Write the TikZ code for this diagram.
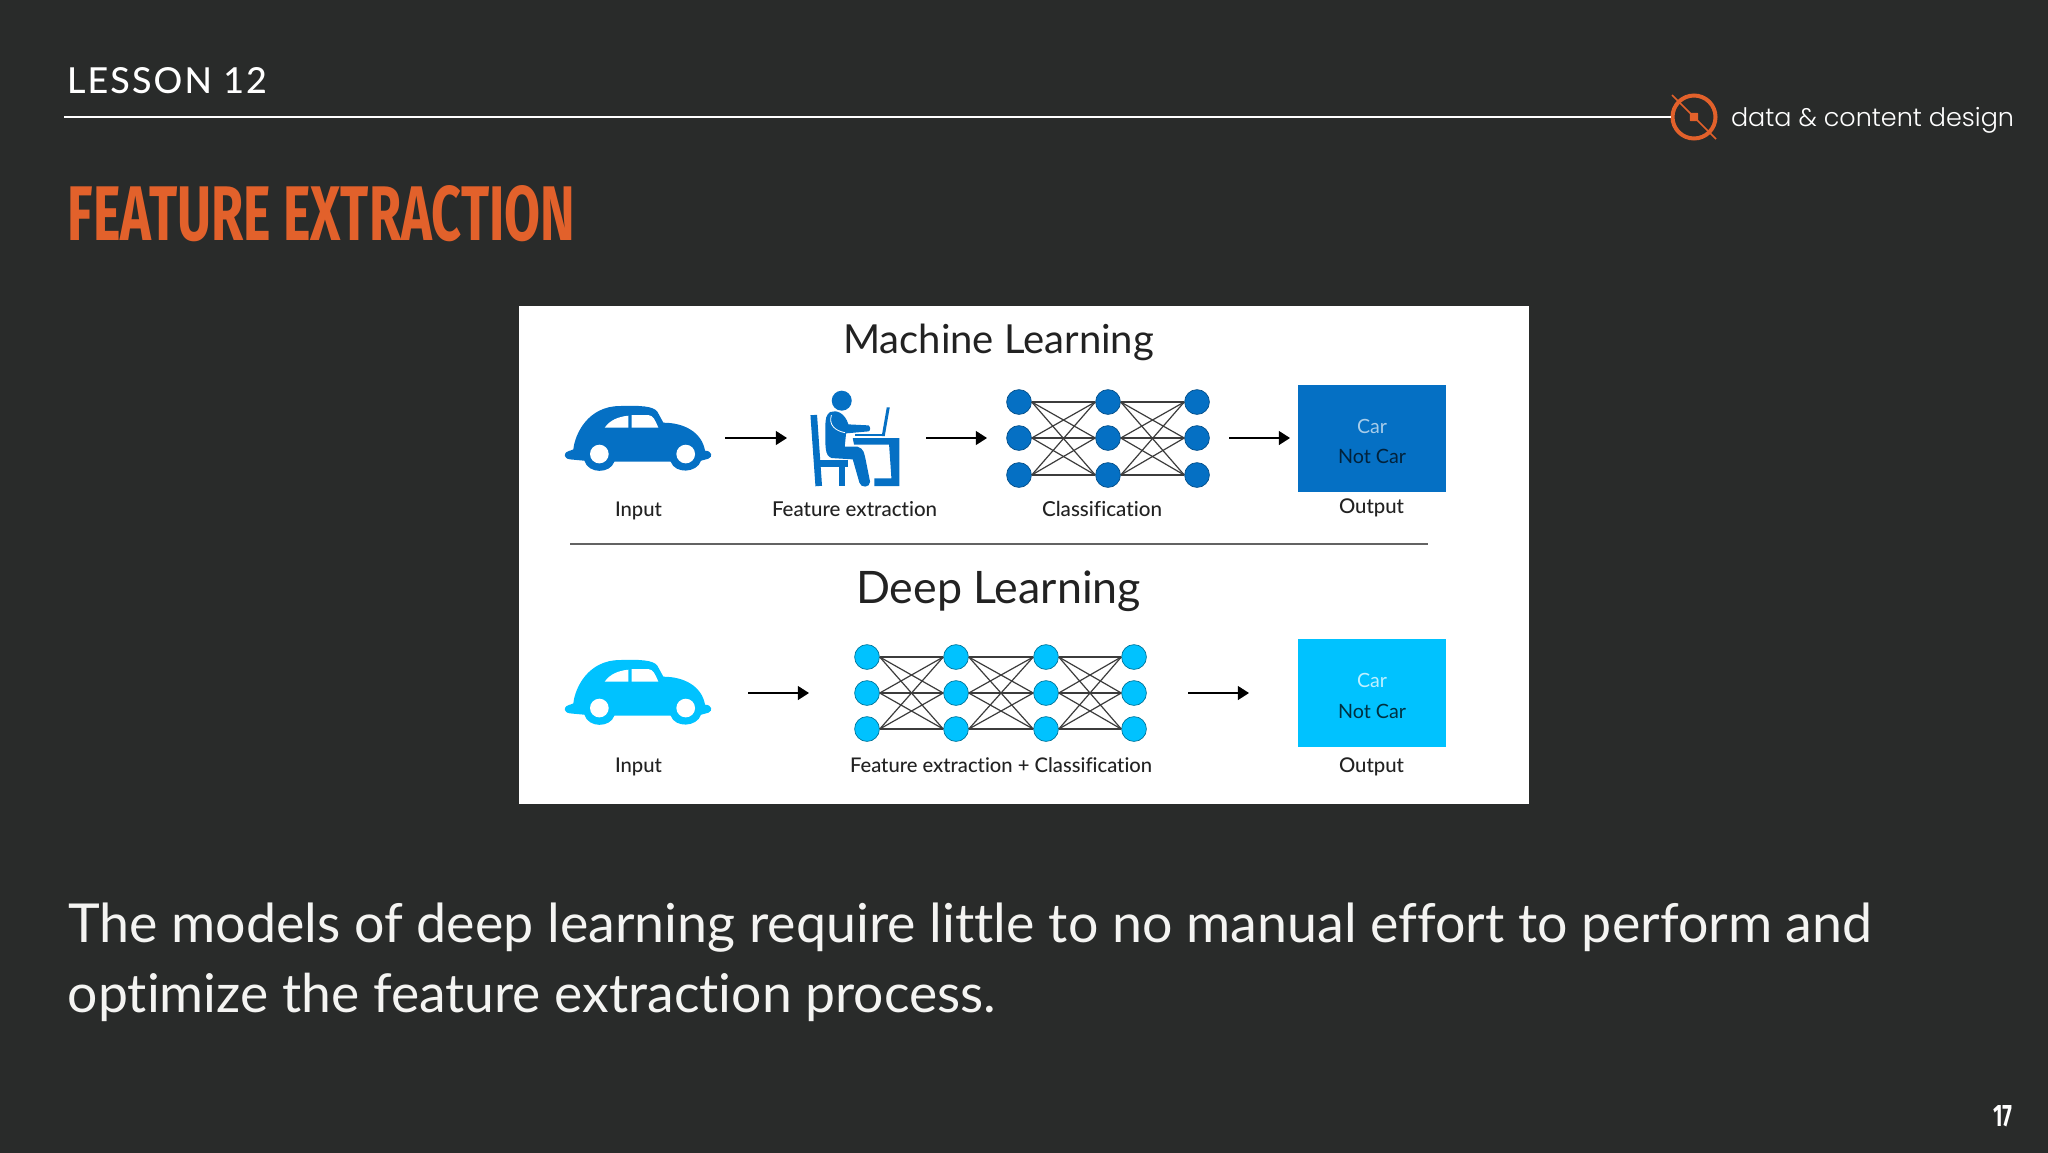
\documentclass[tikz,border=0pt]{standalone}
\usepackage{fontspec}
\setmainfont[Ligatures=NoCommon]{Lato}
\newfontfamily\labelfont[Ligatures=NoCommon]{Lato Medium}
\newfontfamily\dinfont{Fira Sans}
\newfontfamily\dinspaced[LetterSpace=6]{Lato Medium}
\newfontfamily\logofont{Poppins Light}
\definecolor{slatebg}{HTML}{292B2A}
\definecolor{accentorange}{HTML}{E2612B}
\definecolor{mlblue}{HTML}{0570C4}
\definecolor{dlcyan}{HTML}{00C2FF}
\definecolor{inkdark}{HTML}{222222}
\definecolor{netline}{HTML}{3C3C3C}
\definecolor{bodywhite}{HTML}{F4F4F2}
\newcommand{\fitw}[2]{\resizebox{0.5\dimexpr #1pt\relax}{!}{#2}}
\newcommand{\fitwh}[3]{\resizebox{0.5\dimexpr #1pt\relax}{0.5\dimexpr #2pt\relax}{#3}}
\newcommand{\carshape}[1]{%
  \fill[#1] (140,456) .. controls (150,450) and (155,452) .. (160,448)
    .. controls (165,400) and (205,318) .. (300,318)
    .. controls (360,316) and (400,318) .. (412,335)
    -- (430,368) .. controls (490,368) and (545,395) .. (555,452)
    .. controls (575,452) and (580,470) .. (565,476)
    -- (543,482) .. controls (530,520) and (465,522) .. (452,485)
    -- (283,485) .. controls (270,522) and (205,522) .. (193,482)
    -- (150,478) .. controls (130,475) and (132,460) .. (140,456) -- cycle;
  \fill[white] (238,462) circle[radius=28] (497,462) circle[radius=28];
  \fill[white] (254,383) .. controls (270,360) and (295,350) .. (325,347)
    -- (325,383) -- cycle;
  \fill[white] (335,383) -- (335,345) -- (385,345)
    .. controls (400,347) and (405,360) .. (415,383) -- cycle;
}
\usetikzlibrary{arrows.meta}
\tikzset{
  x=0.5pt,y=-0.5pt,
  txt/.style={anchor=base west,inner sep=0pt,outer sep=0pt},
  dark/.style={txt,text=inkdark},
  neuronml/.style={circle,fill=mlblue,draw=mlblue!70!black,line width=0.35pt,minimum size=12.4pt,inner sep=0pt},
  neurondl/.style={circle,fill=dlcyan,draw=dlcyan!60!black,line width=0.35pt,minimum size=12.4pt,inner sep=0pt},
  synapse/.style={draw=netline,line width=0.6pt},
  flow/.style={draw=black,line width=0.7pt,-{Triangle[length=5.6pt,width=7pt]}},
}
\begin{document}
\begin{tikzpicture}
\useasboundingbox (0,0) rectangle (2048,1152);
\fill[slatebg] (-4,-4) rectangle (2052,1156);

% header
\node[txt,text=white] (lesson) at (67,93) {\fitwh{200}{26}{\dinspaced LESSON 12}};
\coordinate (rulestart) at (64,117);
\node[circle,draw=accentorange,line width=2pt,minimum size=21.5pt,inner sep=0pt] (logo) at (1694,117) {};
\draw[white,line width=0.9pt] (rulestart) -- (logo.west);
\coordinate (slashA) at (1672,95);
\coordinate (slashB) at (1716,139);
\draw[accentorange,line width=0.8pt] (slashA) -- (slashB);
\node[fill=accentorange,minimum size=4.2pt,inner sep=0pt,rounded corners=0.4pt] (logodot) at (1694,117) {};
\node[txt,text=white] (brand) at (1731,126) {\fitw{283}{\logofont data \& content design}};
\node[txt,text=accentorange] (title) at (68,240) {\fitwh{507}{55}{\dinfont\bfseries FEATURE EXTRACTION}};

% picture panel
\fill[white] (519,306) rectangle (1529,804);
\node[dark] (mltitle) at (843,353) {\fitw{311}{Machine Learning}};
\node[dark] (dltitle) at (856,603) {\fitw{285}{Deep Learning}};
\coordinate (sepA) at (570,544);
\coordinate (sepB) at (1428,544);
\draw[draw=netline!80!white,line width=1pt] (sepA) -- (sepB);

% cars
\begin{scope}[x=0.1667pt,y=-0.1667pt,xshift=260pt,yshift=-150pt]
  \carshape{mlblue}
\end{scope}
\begin{scope}[x=0.1667pt,y=-0.1667pt,xshift=260pt,yshift=-277pt]
  \carshape{dlcyan}
\end{scope}

% person at desk
\begin{scope}[x=0.1667pt,y=-0.1667pt,xshift=260pt,yshift=-150pt]
  \fill[mlblue] (965,302) circle[radius=30];
  \draw[mlblue,line width=3.3pt] (881,345) -- (896,558);
  \draw[mlblue,line width=3.3pt] (898,490) -- (984,490);
  \draw[mlblue,line width=3.3pt] (966,490) -- (966,558);
  \fill[mlblue] (930,336) .. controls (950,328) and (975,340) .. (985,373)
    -- (1045,376) .. controls (1052,380) and (1052,392) .. (1045,394)
    -- (978,400) -- (974,440) -- (1012,440)
    .. controls (1032,445) and (1032,460) .. (1037,480)
    -- (1050,545) .. controls (1050,564) and (1022,564) .. (1018,548)
    -- (998,478) -- (935,474)
    .. controls (913,467) and (916,440) .. (916,380)
    .. controls (916,355) and (918,345) .. (930,336) -- cycle;
  \draw[white,line width=0.4pt] (934,345) .. controls (925,375) and (945,392) .. (975,398);
  \fill[mlblue] (998,414) -- (1138,414) -- (1138,558) -- (1063,558) -- (1063,535)
    -- (1114,535) -- (1107,434) -- (1002,434) -- cycle;
  \fill[mlblue] (1100,322) -- (1109,322) -- (1094,408) -- (1085,408) -- cycle;
  \fill[mlblue] (1005,402) -- (1095,402) -- (1095,409) -- (1005,409) -- cycle;
\end{scope}

% labels, machine learning row
\node[dark] (inA) at (615,516) {\fitw{47}{\labelfont Input}};
\node[dark] (feA) at (772,516) {\fitw{165}{\labelfont Feature extraction}};
\node[dark] (clA) at (1042,516) {\fitw{120}{\labelfont Classification}};
\node[dark] (ouA) at (1339,513) {\fitw{65}{\labelfont Output}};

% output boxes
\fill[mlblue] (1298,385) rectangle (1446,492);
\fill[dlcyan] (1298,639) rectangle (1446,747);
\node[txt,text=white!65!mlblue] (carA) at (1357,433) {\fitw{30}{Car}};
\node[txt,text=mlblue!30!black] (notA) at (1338,463) {\fitw{68}{Not Car}};
\node[txt,text=white!75!dlcyan] (carB) at (1357,687) {\fitw{30}{Car}};
\node[txt,text=dlcyan!25!black] (notB) at (1338,718) {\fitw{68}{Not Car}};

% labels, deep learning row
\node[dark] (inB) at (615,772) {\fitw{47}{\labelfont Input}};
\node[dark] (feB) at (850,772) {\fitw{302}{\labelfont Feature extraction + Classification}};
\node[dark] (ouB) at (1339,772) {\fitw{65}{\labelfont Output}};

% machine learning network
\foreach \c/\x in {1/1019,2/1108,3/1197}
  \foreach \r/\y in {1/402,2/438,3/475}
    \node[neuronml] (m\c\r) at (\x,\y) {};
\foreach \a in {1,2,3}\foreach \b in {1,2,3}{
  \draw[synapse] (m1\a.east) -- (m2\b.west);
  \draw[synapse] (m2\a.east) -- (m3\b.west);
}

% deep learning network
\foreach \c/\x in {1/867,2/956,3/1046,4/1134}
  \foreach \r/\y in {1/657,2/693,3/729}
    \node[neurondl] (d\c\r) at (\x,\y) {};
\foreach \a in {1,2,3}\foreach \b in {1,2,3}{
  \draw[synapse] (d1\a.east) -- (d2\b.west);
  \draw[synapse] (d2\a.east) -- (d3\b.west);
  \draw[synapse] (d3\a.east) -- (d4\b.west);
}

% arrows
\coordinate (fa1) at (725,438); \coordinate (ta1) at (787,438);
\coordinate (fa2) at (926,438); \coordinate (ta2) at (987,438);
\coordinate (fa3) at (1229,438); \coordinate (ta3) at (1290,438);
\coordinate (fb1) at (748,693); \coordinate (tb1) at (809,693);
\coordinate (fb2) at (1188,693); \coordinate (tb2) at (1249,693);
\draw[flow] (fa1) -- (ta1);
\draw[flow] (fa2) -- (ta2);
\draw[flow] (fa3) -- (ta3);
\draw[flow] (fb1) -- (tb1);
\draw[flow] (fb2) -- (tb2);

% body copy
\node[txt,text=bodywhite] (bodyA) at (68,942) {\fitw{1804}{The models of deep learning require little to no manual effort to perform and}};
\node[txt,text=bodywhite] (bodyB) at (68,1012) {\fitw{928}{optimize the feature extraction process.}};

% page number
\node[txt,text=white] (pageno) at (1993,1126) {\fitwh{19}{21}{\dinfont\bfseries 17}};
\end{tikzpicture}
\end{document}
